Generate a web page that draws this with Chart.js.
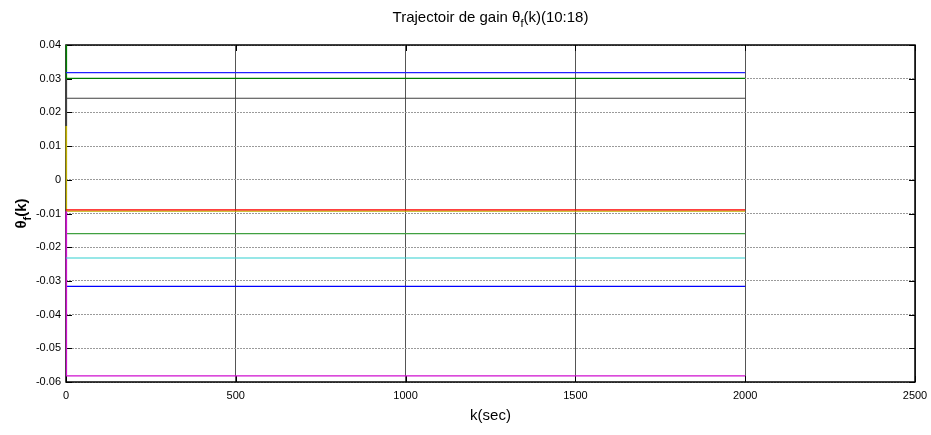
<!DOCTYPE html>
<html>
<head>
<meta charset="utf-8">
<title>Trajectoir de gain</title>
<script src="https://cdn.jsdelivr.net/npm/chart.js@4/dist/chart.umd.min.js"></script>
<style>
  html, body { margin: 0; padding: 0; background: #fff; }
  #wrap { width: 931px; height: 435px; position: relative; }
</style>
</head>
<body>
<div id="wrap"><canvas id="c" width="931" height="435"></canvas></div>
<script>
// Sample instants (k) at which each gain trajectory is given; the gains settle after the first steps.
const kSamples = [0, 1, 2, 2000];

// Gain components theta_f(10) ... theta_f(18)
const theta10 = [0.0318, 0.0318, 0.0318, 0.0318];
const theta11 = [0.0450, 0.0301, 0.0301, 0.0301];
const theta12 = [-0.0089, -0.0089, -0.0089, -0.0089];
const theta13 = [-0.0232, -0.0232, -0.0232, -0.0232];
const theta14 = [-0.0093, -0.0582, -0.0582, -0.0582];
const theta15 = [0.0160, -0.0093, -0.0093, -0.0093];
const theta16 = [0.0300, 0.0160, 0.0242, 0.0242];
const theta17 = [-0.0316, -0.0316, -0.0316, -0.0316];
const theta18 = [-0.0160, -0.0160, -0.0160, -0.0160];

const seriesNames = ['θf(10)', 'θf(11)', 'θf(12)', 'θf(13)', 'θf(14)', 'θf(15)', 'θf(16)', 'θf(17)', 'θf(18)'];
const seriesValues = [theta10, theta11, theta12, theta13, theta14, theta15, theta16, theta17, theta18];
const seriesColors = ['#2020ff', '#008000', '#ff0000', '#30d0d0', '#d010d0', '#c0b000', '#404040', '#0000ff', '#40a040'];

// Axis ranges and ticks
const xTicks = [0, 500, 1000, 1500, 2000, 2500];
const yTicks = [0.04, 0.03, 0.02, 0.01, 0, -0.01, -0.02, -0.03, -0.04, -0.05, -0.06];

const FONT = "'Liberation Sans Narrow', 'Liberation Sans', Arial, sans-serif";

const datasets = seriesValues.map((vals, i) => ({
  label: seriesNames[i],
  data: kSamples.map((k, j) => ({ x: k, y: vals[j] })),
  borderColor: seriesColors[i],
  backgroundColor: seriesColors[i],
  borderWidth: 1.2,
  pointRadius: 0,
  tension: 0,
  fill: false,
  clip: { left: 3, top: 0, right: 0, bottom: 0 }
}));

function drawRich(ctx, parts, cx, baseY, size, subSize, weight) {
  weight = weight || '';
  let total = 0;
  parts.forEach(p => {
    ctx.font = weight + (p.sub ? subSize : size) + 'px ' + FONT;
    p.w = ctx.measureText(p.t).width;
    total += p.w;
  });
  let x = cx - total / 2;
  ctx.fillStyle = '#000';
  ctx.textAlign = 'left';
  ctx.textBaseline = 'alphabetic';
  parts.forEach(p => {
    ctx.font = weight + (p.sub ? subSize : size) + 'px ' + FONT;
    ctx.fillText(p.t, x, p.sub ? baseY + 5 : baseY);
    x += p.w;
  });
}

// Frame and inward tick marks go under the curves; labels with subscripts on top
const decorations = {
  id: 'decorations',
  beforeDatasetsDraw(chart) {
    const ctx = chart.ctx;
    const a = chart.chartArea;
    const xs = chart.scales.x, ys = chart.scales.y;
    ctx.save();
    ctx.strokeStyle = '#000';
    ctx.lineWidth = 1;
    const tl = 6;
    ctx.beginPath();
    xTicks.forEach(v => {
      const px = Math.round(xs.getPixelForValue(v)) + 0.5;
      ctx.moveTo(px, a.bottom); ctx.lineTo(px, a.bottom - tl);
      ctx.moveTo(px, a.top); ctx.lineTo(px, a.top + tl);
    });
    yTicks.forEach(v => {
      const py = Math.round(ys.getPixelForValue(v)) + 0.5;
      ctx.moveTo(a.left, py); ctx.lineTo(a.left + tl, py);
      ctx.moveTo(a.right, py); ctx.lineTo(a.right - tl, py);
    });
    ctx.stroke();
    ctx.lineWidth = 1.5;
    ctx.strokeRect(a.left, a.top, a.right - a.left, a.bottom - a.top);
    ctx.restore();
  },
  afterDatasetsDraw(chart) {
    const ctx = chart.ctx;
    const a = chart.chartArea;
    ctx.save();
    const cx = (a.left + a.right) / 2;
    drawRich(ctx, [
      { t: 'Trajectoir de gain θ', sub: false },
      { t: 'f', sub: true },
      { t: '(k)(10:18)', sub: false }
    ], cx, 22, 15, 11);

    ctx.fillStyle = '#000';
    ctx.font = '15px ' + FONT;
    ctx.textAlign = 'center';
    ctx.textBaseline = 'alphabetic';
    ctx.fillText('k(sec)', cx, 420);

    ctx.save();
    ctx.translate(26, (a.top + a.bottom) / 2);
    ctx.rotate(-Math.PI / 2);
    drawRich(ctx, [
      { t: 'θ', sub: false },
      { t: 'f', sub: true },
      { t: '(k)', sub: false }
    ], 0, 0, 15, 11, 'bold ');
    ctx.restore();
    ctx.restore();
  }
};

new Chart(document.getElementById('c'), {
  type: 'line',
  data: { datasets },
  options: {
    responsive: false,
    animation: false,
    layout: { padding: { left: 0, right: 16, top: 45, bottom: 0 } },
    plugins: {
      legend: { display: false },
      title: { display: false },
      tooltip: { enabled: false }
    },
    scales: {
      x: {
        type: 'linear',
        min: 0,
        max: 2500,
        afterFit(s) { s.height = 53; s.paddingRight = 0; },
        afterBuildTicks(s) { s.ticks = xTicks.map(v => ({ value: v })); },
        grid: { color: '#555', lineWidth: 1, drawTicks: false },
        border: { display: false },
        ticks: {
          autoSkip: false,
          maxRotation: 0,
          padding: 7,
          color: '#000',
          font: { family: FONT, size: 11 },
          callback: v => String(v)
        }
      },
      y: {
        type: 'linear',
        min: -0.06,
        max: 0.04,
        afterFit(s) { s.width = 66; },
        afterBuildTicks(s) { s.ticks = yTicks.map(v => ({ value: v })); },
        grid: { color: '#9a9a9a', lineWidth: 1, drawTicks: false },
        border: { display: false, dash: [2, 1] },
        ticks: {
          autoSkip: false,
          padding: 5,
          color: '#000',
          font: { family: FONT, size: 11 },
          callback: v => String(Number(v.toFixed(2)))
        }
      }
    }
  },
  plugins: [decorations]
});
</script>
</body>
</html>
